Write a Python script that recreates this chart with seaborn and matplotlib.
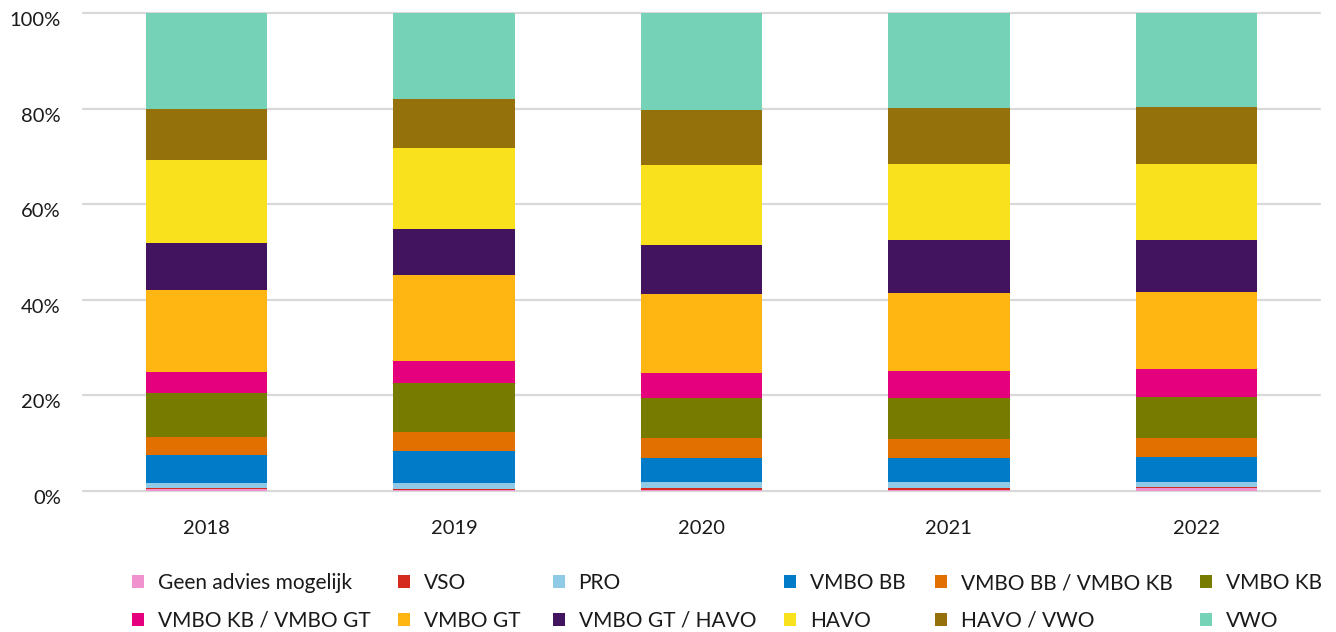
import numpy as np
import pandas as pd
import matplotlib
matplotlib.use("Agg")
import matplotlib.pyplot as plt
import matplotlib.transforms as mtransforms
import seaborn as sns
from matplotlib.patches import Patch
from matplotlib.ticker import PercentFormatter

years = ["2018", "2019", "2020", "2021", "2022"]

levels = [
    "Geen advies mogelijk", "VSO", "PRO", "VMBO BB", "VMBO BB / VMBO KB", "VMBO KB",
    "VMBO KB / VMBO GT", "VMBO GT", "VMBO GT / HAVO", "HAVO", "HAVO / VWO", "VWO",
]

colors = [
    "#f092cd", "#d52b1e", "#8fcae7", "#007bc7", "#e17000", "#777c00",
    "#e5007d", "#ffb612", "#42145f", "#f9e11e", "#94710a", "#76d2b6",
]

# share per level (percent), one value per year
geen = [0.5, 0.2, 0.3, 0.3, 0.7]
vso = [0.2, 0.3, 0.3, 0.3, 0.2]
pro = [1.0, 1.2, 1.2, 1.2, 1.0]
vmbo_bb = [5.8, 6.7, 5.1, 5.1, 5.2]
bb_kb = [3.8, 3.9, 4.2, 4.0, 4.0]
vmbo_kb = [9.2, 10.3, 8.4, 8.6, 8.6]
kb_gt = [4.4, 4.6, 5.2, 5.6, 5.8]
vmbo_gt = [17.1, 18.0, 16.5, 16.3, 16.1]
gt_havo = [9.9, 9.6, 10.3, 11.1, 10.9]
havo = [17.3, 17.0, 16.7, 15.9, 15.9]
havo_vwo = [10.7, 10.2, 11.5, 11.7, 11.9]
vwo = [20.1, 18.0, 20.3, 19.9, 19.7]

values = [geen, vso, pro, vmbo_bb, bb_kb, vmbo_kb,
          kb_gt, vmbo_gt, gt_havo, havo, havo_vwo, vwo]

sns.set_theme(style="white")
plt.rcParams["font.family"] = ["Lato", "DejaVu Sans"]

fig = plt.figure(figsize=(13.36, 6.32), dpi=100)
ax = fig.add_axes([83 / 1336, 1 - 491 / 632, (1320 - 83) / 1336, (491 - 13) / 632])

bottom = np.zeros(len(years))
for level, vals, col in zip(levels, values, colors):
    share = np.array(vals) / 100
    df = pd.DataFrame({"year": years, "share": share})
    sns.barplot(data=df, x="year", y="share", order=years, color=col,
                bottom=bottom, width=0.49, errorbar=None, saturation=1,
                linewidth=0, ax=ax)
    bottom = bottom + share

ax.set_xlim(-0.5, 4.5)
ax.set_ylim(0, 1.0)
ax.set_yticks(np.arange(0, 1.01, 0.2))
ax.yaxis.set_major_formatter(PercentFormatter(1.0, decimals=0))
ax.grid(axis="y", color="#d9d9d9", linewidth=1.6)
ax.grid(axis="x", visible=False)
ax.set_axisbelow(True)
for gl in ax.get_ygridlines():
    gl.set_clip_on(False)
sns.despine(ax=ax, left=True, bottom=True)
ax.set_xlabel("")
ax.set_ylabel("")
ax.tick_params(axis="y", length=0, pad=16, labelsize=14.5, labelcolor="#1a1a1a")
ax.tick_params(axis="x", length=0, pad=21, labelsize=14.5, labelcolor="#1a1a1a")

# y labels sit a little below their gridline in the source
shift = mtransforms.ScaledTranslation(0, -6 / 100, fig.dpi_scale_trans)
for lab in ax.get_yticklabels():
    lab.set_transform(lab.get_transform() + shift)

# legend: six columns, two rows, placed like the source table
handles = [Patch(facecolor=c, edgecolor="none", label=l) for l, c in zip(levels, colors)]
col_x = [132, 398, 553, 784, 935, 1200]
for i, x in enumerate(col_x):
    leg = fig.legend([handles[i], handles[i + 6]], [levels[i], levels[i + 6]],
                     loc="center left", bbox_to_anchor=(x / 1336, 1 - 602 / 632),
                     frameon=False, fontsize=15, handlelength=0.58, handleheight=0.58,
                     handletextpad=0.65, labelspacing=0.85, borderpad=0, borderaxespad=0)
    for t in leg.get_texts():
        t.set_color("#1a1a1a")

fig.savefig("out.png", dpi=100)
